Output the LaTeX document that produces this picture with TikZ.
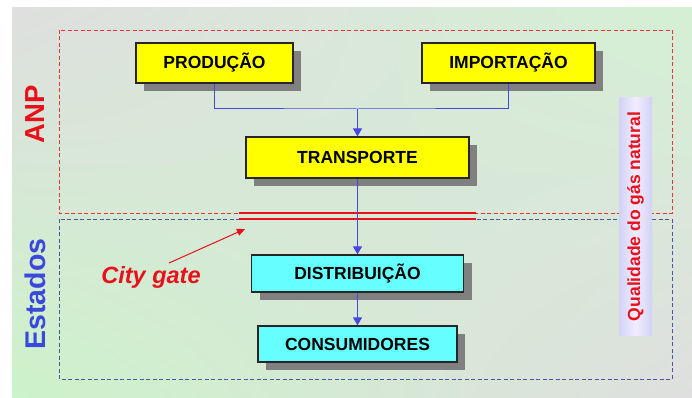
\documentclass[tikz,border=0pt]{standalone}
\usepackage{fontspec}
\setmainfont{Liberation Sans}
\usetikzlibrary{arrows.meta,shadows,shadings}
\definecolor{boxyellow}{HTML}{FFFF00}
\definecolor{boxcyan}{HTML}{66FFFF}
\definecolor{linkblue}{HTML}{4848E0}
\definecolor{anpred}{HTML}{E8101A}
\definecolor{estblue}{HTML}{3A48DD}
\definecolor{dashblue}{HTML}{4A55A8}
\definecolor{shadowgray}{HTML}{808080}
\definecolor{bggray}{HTML}{DFDFDF}
\definecolor{bggreen}{HTML}{CCF3CA}
\definecolor{bggreentr}{HTML}{D4F0D4}
\definecolor{qualedge}{HTML}{D2D2F6}
\definecolor{qualmid}{HTML}{F2ECFF}
\begin{document}
\begin{tikzpicture}[x=1pt,y=-1pt,
  flowbox/.style={draw=black!85, line width=1.2pt, inner sep=0pt,
    font=\fontsize{17.5}{20}\selectfont\bfseries,
    drop shadow={shadow xshift=8pt, shadow yshift=-8pt, fill=shadowgray, opacity=1}},
  ybox/.style={flowbox, fill=boxyellow},
  cbox/.style={flowbox, fill=boxcyan},
  link/.style={draw=linkblue, line width=1pt},
  linkarrow/.style={link, -{Triangle[length=8pt,width=9pt]}},
  anpframe/.style={draw=anpred!85, line width=0.8pt, dash pattern=on 4pt off 2.5pt},
  estframe/.style={draw=dashblue, line width=0.8pt, dash pattern=on 4pt off 2.5pt},
  gateline/.style={draw=anpred, line width=2.6pt},
  sidelabel/.style={rotate=90, inner sep=0pt, font=\fontsize{27.5}{30}\selectfont\bfseries}
]
\useasboundingbox (0,0) rectangle (692,398);
\fill[white] (0,0) rectangle (692,398);
\shade[upper left=bggray, lower right=bggray, lower left=bggreen, upper right=bggreentr] (12,8) rectangle (692,397);

% frames
\draw[anpframe] (59,30) rectangle (672,213);
\draw[estframe] (59,219) rectangle (672,379);

% quality bar
\shade[left color=qualedge, right color=qualedge, middle color=qualmid] (619,98) rectangle (652,335);
\node[rotate=90, inner sep=0pt, text=anpred, font=\fontsize{17.5}{20}\selectfont\bfseries] (qual) at (635.5,216.5) {Qualidade do gás natural};

% side labels
\node[sidelabel, text=anpred] (anp) at (35,114) {ANP};
\node[sidelabel, text=estblue, font=\fontsize{28.5}{30}\selectfont\bfseries] (est) at (35,294) {Estados};

% boxes
\node[ybox, minimum width=157pt, minimum height=40pt] (prod) at (214.5,63) {PRODUÇÃO};
\node[ybox, minimum width=173pt, minimum height=40pt] (imp) at (508.5,63) {IMPORTAÇÃO};
\node[ybox, minimum width=223pt, minimum height=41pt] (trans) at (357.5,157.5) {TRANSPORTE};
\node[cbox, minimum width=212pt, minimum height=37pt] (dist) at (357.5,273.5) {DISTRIBUIÇÃO};
\node[cbox, minimum width=199pt, minimum height=36pt] (cons) at (357.5,344) {CONSUMIDORES};

% city gate double line
\coordinate (gl1) at (239,213);
\coordinate (gr1) at (476,213);
\coordinate (gl2) at (239,219);
\coordinate (gr2) at (476,219);
\draw[gateline] (gl1) -- (gr1);
\draw[gateline] (gl2) -- (gr2);

% connectors
\coordinate (junc) at (357.5,109);
\draw[link] (prod.south) |- (junc) -| (imp.south);
\draw[linkarrow] (junc) -- (trans.north);
\draw[linkarrow] (trans.south) -- (dist.north);
\draw[linkarrow] (dist.south) -- (cons.north);

% city gate label
\node[anchor=base, inner sep=0pt, text=anpred, font=\fontsize{23.5}{26}\selectfont\bfseries\itshape] (gate) at (151,283) {City gate};
\coordinate (gatefrom) at (169,263);
\coordinate (gateto) at (245,229);
\draw[draw=anpred, line width=1pt, -{Triangle[length=8pt,width=7pt]}] (gatefrom) -- (gateto);
\end{tikzpicture}
\end{document}
